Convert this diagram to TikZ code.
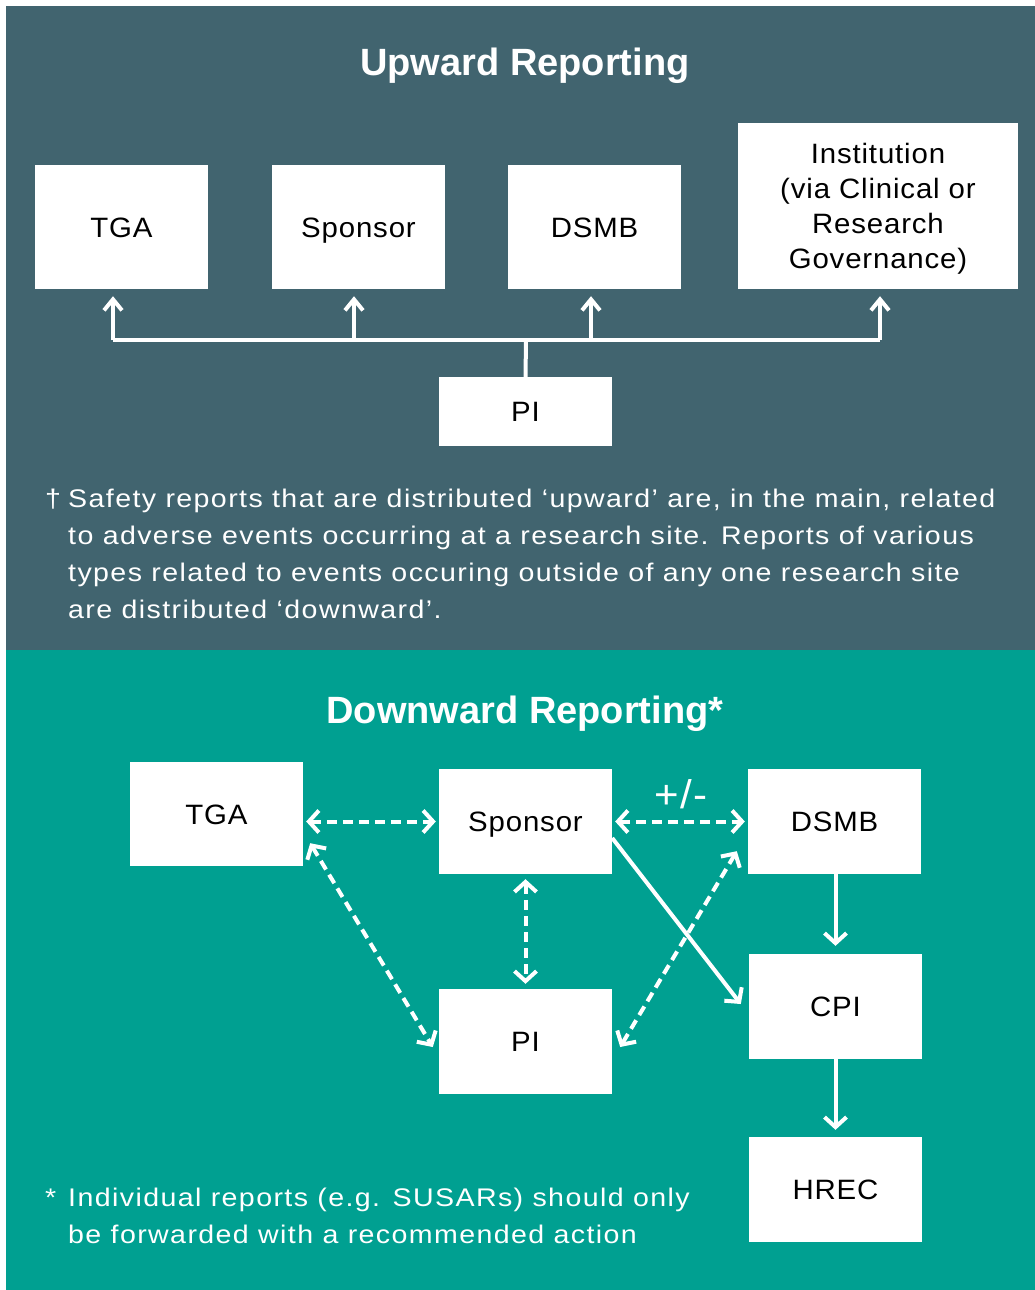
\documentclass[tikz,border=0pt]{standalone}
\usepackage{fontspec}
\setmainfont{Liberation Sans}
\newfontfamily\notefont[FakeStretch=1.12, LetterSpace=5.5]{Liberation Sans}
\newfontfamily\boxfont[FakeStretch=1.05, LetterSpace=3]{Liberation Sans}
\usetikzlibrary{arrows.meta}
\definecolor{topbg}{RGB}{65,100,111}
\definecolor{botbg}{RGB}{0,160,145}
\begin{document}
\begin{tikzpicture}[x=1pt,y=-1pt,
  box/.style={fill=white, draw=none, inner sep=0pt, text=black, align=center,
    font=\boxfont\fontsize{28}{35}\selectfont, minimum width=173pt,
    text height=20pt, text depth=0pt},
  title/.style={text=white, font=\fontsize{38}{44}\bfseries\selectfont},
  note/.style={text=white, anchor=base west, inner sep=0pt, font=\notefont\fontsize{25.5}{37}\selectfont},
  link/.style={draw=white, line width=4pt},
  uptip/.style={-{Straight Barb[length=11pt,width=18pt]}},
  tipone/.style={-{Straight Barb[length=10pt,width=22pt]}},
  tiptwo/.style={{Straight Barb[length=10pt,width=22pt]}-{Straight Barb[length=10pt,width=22pt]}},
  dlink/.style={link, dash pattern=on 10pt off 6pt}
]
\useasboundingbox (0,0) rectangle (1035,1290);
\fill[topbg] (6,6) rectangle (1035,650);
\fill[botbg] (6,650) rectangle (1035,1290);

% ---------- Upward ----------
\node[title] (uptitle) at (525,66) {Upward Reporting};
\node[box, minimum height=124pt] (tga1) at (121.5,227) {TGA};
\node[box, minimum height=124pt] (sp1) at (358.5,227) {Sponsor};
\node[box, minimum height=124pt] (ds1) at (594.5,227) {DSMB};
\node[box, minimum width=280pt, minimum height=166pt, text height={}, text depth=0pt] (in1) at (878,206)
  {Institution\\(via Clinical or\\Research\\Governance)};
\node[box, minimum height=69pt] (pi1) at (525.5,411.5) {PI};

\coordinate (bus) at (526,340);
\coordinate (b1) at (113,340);
\coordinate (b2) at (354,340);
\coordinate (b3) at (591,340);
\coordinate (b4) at (880,340);
\draw[link] (pi1.north) -- (bus);
\draw[link] (b1) -- (b4);
\draw[link, uptip, shorten >=7pt] (b1) -- (b1 |- tga1.south);
\draw[link, uptip, shorten >=7pt] (b2) -- (b2 |- sp1.south);
\draw[link, uptip, shorten >=7pt] (b3) -- (b3 |- ds1.south);
\draw[link, uptip, shorten >=7pt] (b4) -- (b4 |- in1.south);

\node[note] (n1a) at (45,507) {\dag};
\node[note] (n1b) at (68,507) {Safety reports that are distributed ‘upward’ are, in the main, related};
\node[note] (n1c) at (68,544) {to adverse events occurring at a research site. Reports of various};
\node[note] (n1d) at (68,581) {types related to events occuring outside of any one research site};
\node[note] (n1e) at (68,618) {are distributed ‘downward’.};

% ---------- Downward ----------
\node[title] (dntitle) at (525,714) {Downward Reporting*};
\node[box, minimum height=104pt] (tga2) at (216.5,814) {TGA};
\node[box, minimum height=105pt] (sp2) at (525.5,821.5) {Sponsor};
\node[box, minimum height=105pt] (ds2) at (834.5,821.5) {DSMB};
\node[box, minimum height=105pt] (cpi2) at (835.5,1006.5) {CPI};
\node[box, minimum height=105pt] (pi2) at (525.5,1041.5) {PI};
\node[box, minimum height=105pt] (hr2) at (835.5,1189.5) {HREC};

\draw[dlink, tiptwo, shorten <=3pt, shorten >=3pt] (sp2.west -| tga2.east) -- (sp2.west);
\draw[dlink, tiptwo, shorten <=3pt, shorten >=3pt] (sp2.east) -- (ds2.west);
\node[text=white, font=\boxfont\fontsize{40}{44}\selectfont] (pm) at (681,794) {+/-};
\draw[dlink, tiptwo, shorten <=5pt, shorten >=5pt] (sp2.south) -- (pi2.north);
\draw[dlink, tiptwo] ([xshift=7pt,yshift=23pt]tga2.south east) -- ([xshift=-6pt,yshift=-5.5pt]pi2.west);
\draw[dlink, tiptwo] ([xshift=-11pt,yshift=23pt]ds2.south west) -- ([xshift=8pt,yshift=-5.5pt]pi2.east);
\draw[link, tipone] ([yshift=-16.5pt]sp2.east) -- ([xshift=-8pt,yshift=2.5pt]cpi2.west);
\draw[link, tipone, shorten >=8pt] (ds2.south -| cpi2.north) -- (cpi2.north);
\draw[link, tipone, shorten >=7pt] (cpi2.south) -- (hr2.north);

\node[note] (n2a) at (45,1206) {*};
\node[note] (n2b) at (68,1206) {Individual reports (e.g. SUSARs) should only};
\node[note] (n2c) at (68,1243) {be forwarded with a recommended action};
\end{tikzpicture}
\end{document}
